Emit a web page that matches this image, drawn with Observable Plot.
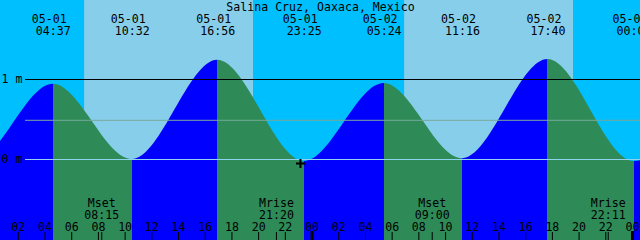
<!DOCTYPE html>
<html>
<head>
<meta charset="utf-8">
<script src="https://cdn.jsdelivr.net/npm/d3@7"></script>
<script src="https://cdn.jsdelivr.net/npm/@observablehq/plot@0.6"></script>
<style>
  html, body { margin: 0; padding: 0; background: #00BFFF; overflow: hidden; }
  #chart svg { display: block; overflow: hidden; }
</style>
</head>
<body>
<div id="chart"></div>
<script>
// ---- data ----
const stationName = "Salina Cruz, Oaxaca, Mexico";
const viewStart = "05-01 00:40";
const viewEnd = "05-03 00:36";
const yMin = -1.0125, yMax = 1.9875;

// tide extremes (first two and last one lie outside the window)
const tideTimes = ["04-30 16:10", "04-30 22:40", "05-01 04:37", "05-01 10:32", "05-01 16:56", "05-01 23:25",
                   "05-02 05:24", "05-02 11:16", "05-02 17:40", "05-03 00:07", "05-03 06:10"];
const tideHeights = [1.22, -0.03, 0.94, 0.0, 1.24, -0.025, 0.95, 0.01, 1.25, -0.025, 0.95];

// sunrise / sunset (day = light blue band)
const sunriseTimes = ["05-01 06:58", "05-02 06:56"];
const sunsetTimes = ["05-01 19:37", "05-02 19:35"];

// moon events
const moonLabels = ["Mset", "Mrise", "Mset", "Mrise"];
const moonTimes = ["05-01 08:15", "05-01 21:20", "05-02 09:00", "05-02 22:11"];

// hour tick labels along the bottom (every 2 h from 05-01 02:00)
const hourLabels = ["02","04","06","08","10","12","14","16","18","20","22","00",
                    "02","04","06","08","10","12","14","16","18","20","22","00"];

// reference levels
const levelLabels = ["1 m", "0 m"];
const levelValues = [1, 0];
const meanLevel = [0.49];

// current-time marker
const nowTime = "05-01 23:08";
const nowHeight = -0.05;

// ---- helpers ----
function hoursOf(s) {
  const [md, hm] = s.split(" ");
  const [mo, dd] = md.split("-").map(Number);
  const [h, m] = hm.split(":").map(Number);
  const day = mo === 4 ? dd - 31 : dd - 1;
  return day * 24 + h + m / 60;
}

const x0 = hoursOf(viewStart), x1 = hoursOf(viewEnd);
const tide = tideTimes.map((s, i) => ({
  t: hoursOf(s), h: tideHeights[i], date: s.slice(0, 5), time: s.slice(6)
}));
const visibleTide = tide.filter(d => d.t > x0 && d.t < x1 + 1);
const days = sunriseTimes.map((s, i) => ({a: hoursOf(s), b: hoursOf(sunsetTimes[i])}));
const moon = moonTimes.map((s, i) => ({t: hoursOf(s), label: moonLabels[i], time: s.slice(6)}));
const ticks = hourLabels.map((l, i) => ({t: 2 * (i + 1), label: l}));
const minorTicks = ticks.filter(d => d.label !== "00");
const midnightTicks = ticks.filter(d => d.label === "00");
const levels = levelLabels.map((l, i) => ({label: l, h: levelValues[i]}));

const font = "DejaVu Sans Mono";
const fs = 11.6;

const plot = Plot.plot({
  width: 640,
  height: 240,
  marginLeft: 0, marginRight: 0, marginTop: 0, marginBottom: 0,
  x: {domain: [x0, x1], axis: null},
  y: {domain: [yMin, yMax], axis: null},
  style: {background: "#00BFFF", fontFamily: font, fontSize: fs + "px", color: "black"},
  marks: [
    Plot.rect(days, {x1: "a", x2: "b", fill: "#87CEEB"}),
    Plot.areaY(tide, {x: "t", y1: yMin, y2: "h", curve: "monotone-x", fill: "url(#tideFill)"}),
    Plot.ruleY(meanLevel, {stroke: "#77a89a", insetLeft: 25}),
    Plot.ruleY([0], {stroke: "#8fd3f0", insetLeft: 25}),
    Plot.ruleY([1], {stroke: "black", insetLeft: 25}),
    Plot.text(levels, {y: "h", text: "label", frameAnchor: "left", dx: 1, textAnchor: "start", fontSize: fs, fill: "black"}),
    Plot.text([stationName], {text: d => d, frameAnchor: "top", dy: 10, lineAnchor: "bottom", fontSize: fs, fill: "black"}),
    Plot.text(visibleTide, {x: "t", text: "date", frameAnchor: "top", dy: 22, dx: -4, lineAnchor: "bottom", fontSize: fs, fill: "black"}),
    Plot.text(visibleTide, {x: "t", text: "time", frameAnchor: "top", dy: 34, lineAnchor: "bottom", fontSize: fs, fill: "black"}),
    Plot.text(moon, {x: "t", text: "label", frameAnchor: "bottom", dy: -34, lineAnchor: "bottom", fontSize: fs, fill: "black"}),
    Plot.text(moon, {x: "t", text: "time", frameAnchor: "bottom", dy: -22, lineAnchor: "bottom", fontSize: fs, fill: "black"}),
    Plot.text(ticks, {x: "t", text: "label", frameAnchor: "bottom", dy: -10, lineAnchor: "bottom", fontSize: fs, fill: "black"}),
    Plot.ruleX(minorTicks, {x: "t", insetTop: 232, stroke: "black"}),
    Plot.ruleX(moon, {x: "t", insetTop: 232, stroke: "black"}),
    Plot.ruleX(midnightTicks, {x: "t", insetTop: 231, stroke: "black", strokeWidth: 3}),
    Plot.dot([{t: hoursOf(nowTime), h: nowHeight}], {
      x: "t", y: "h", r: 4, fill: "black", stroke: "none",
      symbol: {draw(ctx) {
        ctx.rect(-4.5, -1, 9, 2);
        ctx.rect(-1, -4.5, 2, 9);
      }}
    })
  ]
});

// gradient: blue while rising, green while falling
const xs = plot.scale("x");
const ns = "http://www.w3.org/2000/svg";
const defs = document.createElementNS(ns, "defs");
const grad = document.createElementNS(ns, "linearGradient");
grad.setAttribute("id", "tideFill");
grad.setAttribute("gradientUnits", "userSpaceOnUse");
grad.setAttribute("x1", "0"); grad.setAttribute("x2", "640");
grad.setAttribute("y1", "0"); grad.setAttribute("y2", "0");
const clamp = v => Math.max(0, Math.min(1, v));
for (let i = 0; i < tide.length - 1; i++) {
  const color = tide[i + 1].h > tide[i].h ? "#0000FF" : "#2E8B57";
  const a = clamp(xs.apply(tide[i].t) / 640), b = clamp(xs.apply(tide[i + 1].t) / 640);
  for (const o of [a, b]) {
    const st = document.createElementNS(ns, "stop");
    st.setAttribute("offset", o);
    st.setAttribute("stop-color", color);
    grad.appendChild(st);
  }
}
defs.appendChild(grad);
plot.insertBefore(defs, plot.firstChild);
document.getElementById("chart").appendChild(plot);
</script>
</body>
</html>
